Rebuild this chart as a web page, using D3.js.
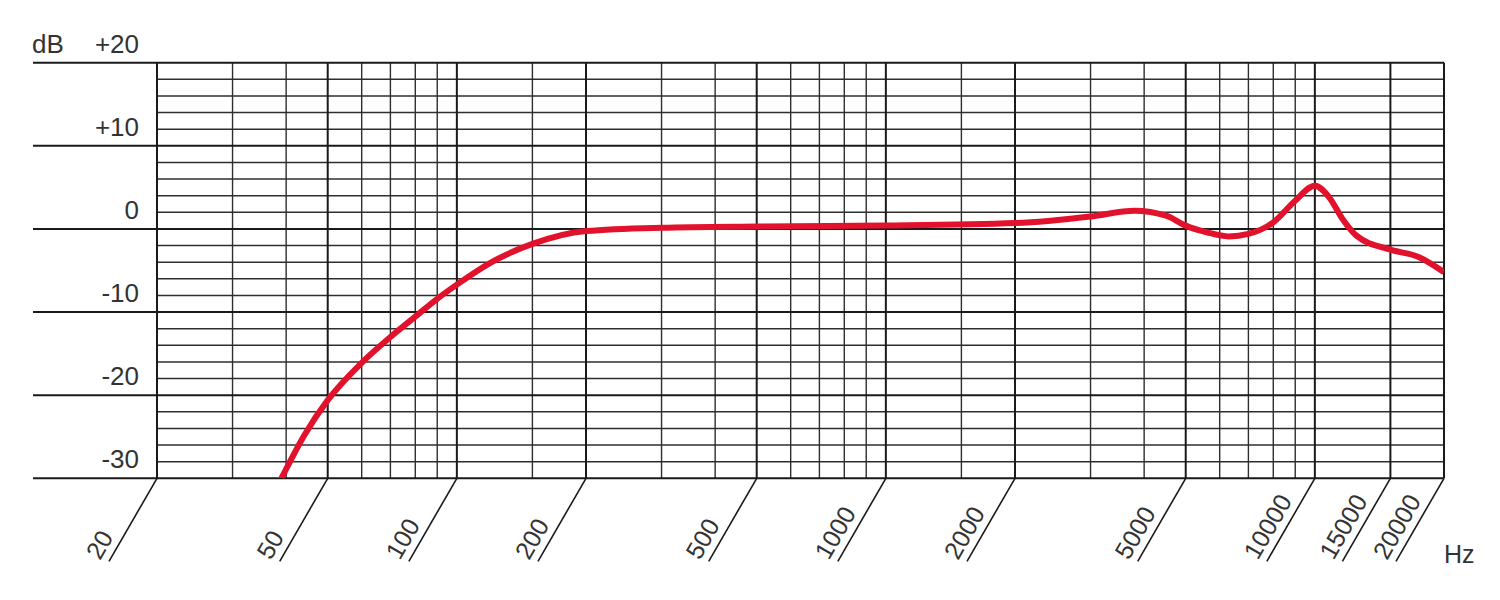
<!DOCTYPE html>
<html lang="en">
<head>
<meta charset="UTF-8">
<title>Frequency response</title>
<style>
body { margin: 0; background: #fff; }
text { font-family: "Liberation Sans", Arial, sans-serif; fill: #333; }
</style>
</head>
<body>
<svg width="1500" height="600"></svg>
<script src="https://d3js.org/d3.v7.min.js"></script>
<script>

// response curve (Hz, dB)
var freqs  = [39, 44, 50, 60, 70, 80, 90, 100, 120, 150, 200, 300, 500, 1000, 2000, 3000, 3800, 4500, 5000, 5600, 6300, 7000, 8000, 9000, 10000, 10800, 11600, 12500, 15000, 17500, 20000];
var levels = [-30, -24.9, -20.6, -16.1, -13.0, -10.55, -8.4, -6.7, -4.05, -1.8, -0.25, 0.15, 0.3, 0.4, 0.7, 1.5, 2.2, 1.6, 0.4, -0.4, -0.9, -0.6, 0.8, 3.4, 5.2, 3.8, 1.2, -0.8, -2.5, -3.4, -5.2];

var freqMajor = [20, 50, 100, 200, 500, 1000, 2000, 5000, 10000, 15000, 20000];
var freqMinor = [30, 40, 60, 70, 80, 90, 150, 300, 400, 600, 700, 800, 900, 1500, 3000, 4000, 6000, 7000, 8000, 9000];
var dbMajor = [20, 10, 0, -10, -20, -30];
var dbLabels = ["+20", "+10", "0", "-10", "-20", "-30"];
var dbMinor = [18, 16, 14, 12, 8, 6, 4, 2, -2, -4, -6, -8, -12, -14, -16, -18, -22, -24, -26, -28];

var svg = d3.select("svg"),
    margin = {top: 62.7, right: 56, bottom: 121.7, left: 157},
    width = +svg.attr("width") - margin.left - margin.right,
    height = +svg.attr("height") - margin.top - margin.bottom,
    g = svg.append("g").attr("transform", "translate(" + margin.left + "," + margin.top + ")");

var x = d3.scaleLog().domain([20, 20000]).range([0, width]);
var y = d3.scaleLinear().domain([-30, 20]).range([height, 0]);

svg.append("defs").append("clipPath")
    .attr("id", "plot")
  .append("rect")
    .attr("width", width)
    .attr("height", height);

// grid
g.append("g")
    .attr("stroke", "#2e2e2e")
    .attr("stroke-width", 1.4)
  .selectAll("line")
  .data(dbMinor)
  .enter().append("line")
    .attr("x1", 0)
    .attr("x2", width)
    .attr("y1", function(d) { return y(d); })
    .attr("y2", function(d) { return y(d); });

g.append("g")
    .attr("stroke", "#2e2e2e")
    .attr("stroke-width", 1.4)
  .selectAll("line")
  .data(freqMinor)
  .enter().append("line")
    .attr("x1", function(d) { return x(d); })
    .attr("x2", function(d) { return x(d); })
    .attr("y1", 0)
    .attr("y2", height);

g.append("g")
    .attr("stroke", "#1a1a1a")
    .attr("stroke-width", 2)
  .selectAll("line")
  .data(freqMajor)
  .enter().append("line")
    .attr("x1", function(d) { return x(d); })
    .attr("x2", function(d) { return x(d); })
    .attr("y1", 0)
    .attr("y2", height);

g.append("g")
    .attr("stroke", "#1a1a1a")
    .attr("stroke-width", 2)
  .selectAll("line")
  .data(dbMajor)
  .enter().append("line")
    .attr("x1", -124)
    .attr("x2", width)
    .attr("y1", function(d) { return y(d); })
    .attr("y2", function(d) { return y(d); });

// dB labels
g.append("g")
    .attr("font-size", 26)
    .attr("text-anchor", "end")
  .selectAll("text")
  .data(dbMajor)
  .enter().append("text")
    .attr("x", -18)
    .attr("y", function(d) { return y(d) - 10; })
    .text(function(d, i) { return dbLabels[i]; });

g.append("text")
    .attr("x", -125)
    .attr("y", y(20) - 10)
    .attr("font-size", 26)
    .text("dB");

// slanted frequency ticks
var xt = g.append("g")
    .attr("transform", "translate(0," + height + ")");

xt.selectAll("line")
  .data(freqMajor)
  .enter().append("line")
    .attr("x1", function(d) { return x(d); })
    .attr("y1", 0)
    .attr("x2", function(d) { return x(d) - 48; })
    .attr("y2", 83)
    .attr("stroke", "#1a1a1a")
    .attr("stroke-width", 1.6);

xt.selectAll("text")
  .data(freqMajor)
  .enter().append("text")
    .attr("font-size", 25)
    .attr("transform", function(d) { return "translate(" + (x(d) - 57) + ",82.7) rotate(-60)"; })
    .text(function(d) { return d; });

xt.append("text")
    .attr("x", width)
    .attr("y", 84.7)
    .attr("font-size", 25)
    .text("Hz");

// response
var line = d3.line()
    .x(function(d) { return x(d[0]); })
    .y(function(d) { return y(d[1]); })
    .curve(d3.curveMonotoneX);

g.append("path")
    .datum(freqs.map(function(f, i) { return [f, levels[i]]; }))
    .attr("clip-path", "url(#plot)")
    .attr("fill", "none")
    .attr("stroke", "#e3122c")
    .attr("stroke-width", 6)
    .attr("d", line);

</script>
</body>
</html>
